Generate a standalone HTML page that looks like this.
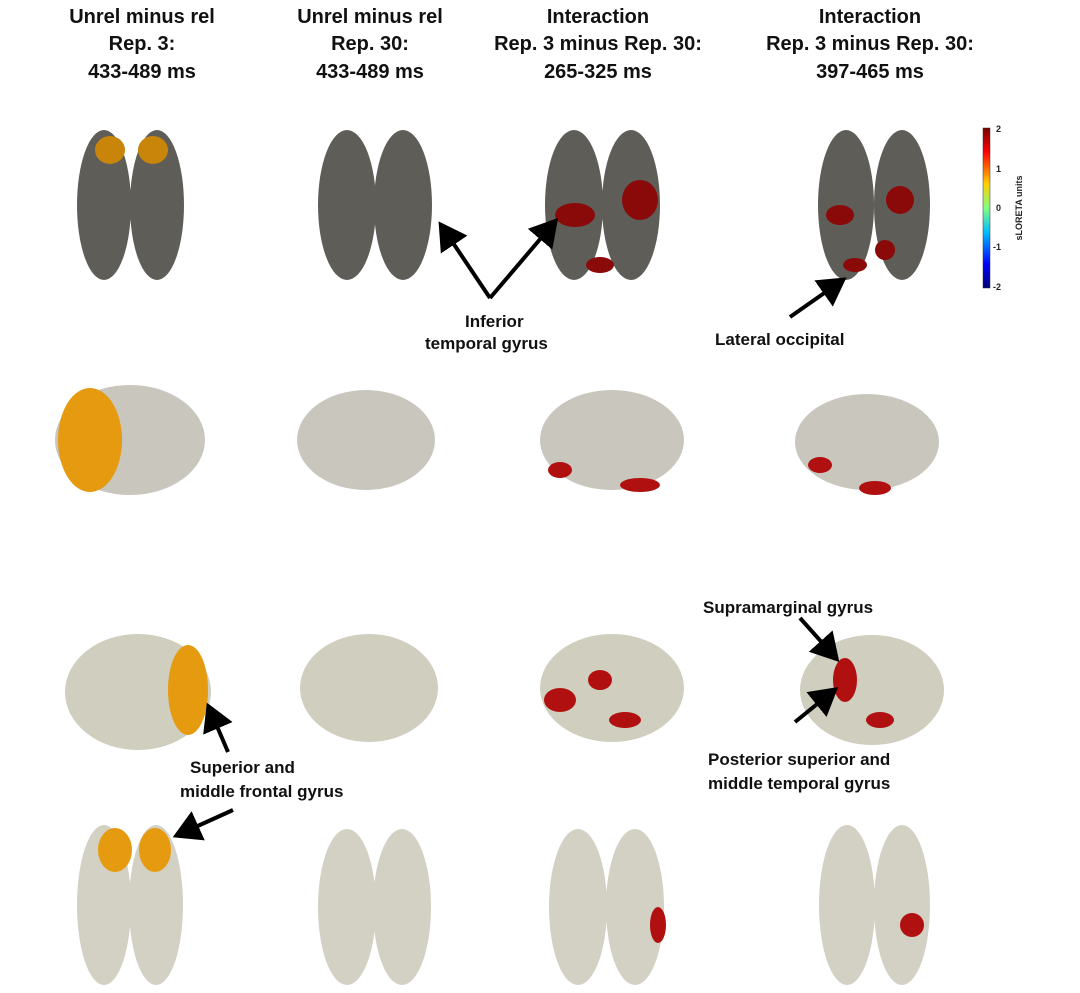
<!DOCTYPE html>
<html><head><meta charset="utf-8"><style>
html,body{margin:0;padding:0;background:#fff;}
svg{display:block;font-family:"Liberation Sans",Arial,sans-serif;}
.h{font-size:20px;font-weight:bold;text-anchor:middle;fill:#111;}
.l{font-size:17px;font-weight:bold;fill:#111;}
</style></head><body>
<svg width="1080" height="993" viewBox="0 0 1080 993" xmlns="http://www.w3.org/2000/svg">
<defs>
<filter id="tex" x="0" y="0" width="1" height="1">
<feTurbulence type="fractalNoise" baseFrequency="0.06" numOctaves="2" seed="3"/>
<feColorMatrix type="matrix" values="0 0 0 0 0  0 0 0 0 0  0 0 0 0 0  1.2 0 0 0 -0.35"/>
<feComposite in2="SourceGraphic" operator="in"/>
</filter>
<marker id="ar" markerWidth="8" markerHeight="8" refX="5" refY="4" orient="auto" markerUnits="strokeWidth">
<path d="M0,0 L7,4 L0,8 z" fill="#000"/></marker>
<linearGradient id="cb" x1="0" y1="0" x2="0" y2="1">
<stop offset="0" stop-color="#7a0000"/><stop offset="0.15" stop-color="#ff0000"/><stop offset="0.35" stop-color="#ffd000"/>
<stop offset="0.5" stop-color="#80ff80"/><stop offset="0.65" stop-color="#00c0ff"/><stop offset="0.85" stop-color="#0000ff"/><stop offset="1" stop-color="#00007a"/></linearGradient>
</defs>

<text class="h" x="142" y="23">Unrel minus rel</text>
<text class="h" x="142" y="50">Rep. 3:</text>
<text class="h" x="142" y="78">433-489 ms</text>
<text class="h" x="370" y="23">Unrel minus rel</text>
<text class="h" x="370" y="50">Rep. 30:</text>
<text class="h" x="370" y="78">433-489 ms</text>
<text class="h" x="598" y="23">Interaction</text>
<text class="h" x="598" y="50">Rep. 3 minus Rep. 30:</text>
<text class="h" x="598" y="78">265-325 ms</text>
<text class="h" x="870" y="23">Interaction</text>
<text class="h" x="870" y="50">Rep. 3 minus Rep. 30:</text>
<text class="h" x="870" y="78">397-465 ms</text>

<!-- Row 1 dark top views -->
<g fill="#5e5d58">
<ellipse cx="104" cy="205" rx="27" ry="75"/><ellipse cx="157" cy="205" rx="27" ry="75"/>
<ellipse cx="347" cy="205" rx="29" ry="75"/><ellipse cx="403" cy="205" rx="29" ry="75"/>
<ellipse cx="574" cy="205" rx="29" ry="75"/><ellipse cx="631" cy="205" rx="29" ry="75"/>
<ellipse cx="846" cy="205" rx="28" ry="75"/><ellipse cx="902" cy="205" rx="28" ry="75"/>
</g>
<g fill="#c8850a">
<ellipse cx="110" cy="150" rx="15" ry="14"/><ellipse cx="153" cy="150" rx="15" ry="14"/>
</g>
<g fill="#8a0a0a">
<ellipse cx="575" cy="215" rx="20" ry="12"/><ellipse cx="640" cy="200" rx="18" ry="20"/><ellipse cx="600" cy="265" rx="14" ry="8"/>
<ellipse cx="840" cy="215" rx="14" ry="10"/><ellipse cx="900" cy="200" rx="14" ry="14"/><ellipse cx="855" cy="265" rx="12" ry="7"/><ellipse cx="885" cy="250" rx="10" ry="10"/>
</g>

<!-- Row 2 lateral views -->
<g fill="#c9c7bd">
<ellipse cx="130" cy="440" rx="75" ry="55"/>
<ellipse cx="366" cy="440" rx="69" ry="50"/>
<ellipse cx="612" cy="440" rx="72" ry="50"/>
<ellipse cx="867" cy="442" rx="72" ry="48"/>
</g>
<ellipse cx="90" cy="440" rx="32" ry="52" fill="#e59a10"/>
<g fill="#b01010">
<ellipse cx="560" cy="470" rx="12" ry="8"/><ellipse cx="640" cy="485" rx="20" ry="7"/>
<ellipse cx="820" cy="465" rx="12" ry="8"/><ellipse cx="875" cy="488" rx="16" ry="7"/>
</g>

<!-- Row 3 lateral views -->
<g fill="#d0cebf">
<ellipse cx="138" cy="692" rx="73" ry="58"/>
<ellipse cx="369" cy="688" rx="69" ry="54"/>
<ellipse cx="612" cy="688" rx="72" ry="54"/>
<ellipse cx="872" cy="690" rx="72" ry="55"/>
</g>
<ellipse cx="188" cy="690" rx="20" ry="45" fill="#e59a10"/>
<g fill="#b01010">
<ellipse cx="560" cy="700" rx="16" ry="12"/><ellipse cx="600" cy="680" rx="12" ry="10"/><ellipse cx="625" cy="720" rx="16" ry="8"/>
<ellipse cx="845" cy="680" rx="12" ry="22"/><ellipse cx="880" cy="720" rx="14" ry="8"/>
</g>

<!-- Row 4 top views -->
<g fill="#d3d1c3">
<ellipse cx="104" cy="905" rx="27" ry="80"/><ellipse cx="156" cy="905" rx="27" ry="80"/>
<ellipse cx="347" cy="907" rx="29" ry="78"/><ellipse cx="402" cy="907" rx="29" ry="78"/>
<ellipse cx="578" cy="907" rx="29" ry="78"/><ellipse cx="635" cy="907" rx="29" ry="78"/>
<ellipse cx="847" cy="905" rx="28" ry="80"/><ellipse cx="902" cy="905" rx="28" ry="80"/>
</g>
<g fill="#e59a10"><ellipse cx="115" cy="850" rx="17" ry="22"/><ellipse cx="155" cy="850" rx="16" ry="22"/></g>
<g fill="#b01010"><ellipse cx="658" cy="925" rx="8" ry="18"/><ellipse cx="912" cy="925" rx="12" ry="12"/></g>

<!-- texture overlay -->
<rect x="50" y="120" width="900" height="870" fill="#000" opacity="0" />

<!-- colorbar -->
<rect x="983" y="128" width="7" height="160" fill="url(#cb)" stroke="#333" stroke-width="0.5"/>
<g font-size="9" font-weight="bold" fill="#222">
<text x="996" y="132">2</text><text x="996" y="172">1</text><text x="996" y="211">0</text><text x="993" y="250">-1</text><text x="993" y="290">-2</text>
</g>
<text x="1022" y="208" font-size="9" font-weight="bold" fill="#222" text-anchor="middle" transform="rotate(-90 1022 208)">sLORETA units</text>

<!-- arrows -->
<g stroke="#000" stroke-width="4" fill="none" marker-end="url(#ar)">
<line x1="490" y1="298" x2="443" y2="228"/>
<line x1="490" y1="298" x2="553" y2="224"/>
<line x1="790" y1="317" x2="840" y2="282"/>
<line x1="800" y1="618" x2="834" y2="656"/>
<line x1="795" y1="722" x2="832" y2="692"/>
<line x1="228" y1="752" x2="210" y2="710"/>
<line x1="233" y1="810" x2="180" y2="834"/>
</g>

<text class="l" x="465" y="327">Inferior</text>
<text class="l" x="425" y="349">temporal gyrus</text>
<text class="l" x="715" y="345">Lateral occipital</text>
<text class="l" x="703" y="613">Supramarginal gyrus</text>
<text class="l" x="708" y="765">Posterior superior and</text>
<text class="l" x="708" y="789">middle temporal gyrus</text>
<text class="l" x="190" y="773">Superior and</text>
<text class="l" x="180" y="797">middle frontal gyrus</text>
</svg>
</body></html>
